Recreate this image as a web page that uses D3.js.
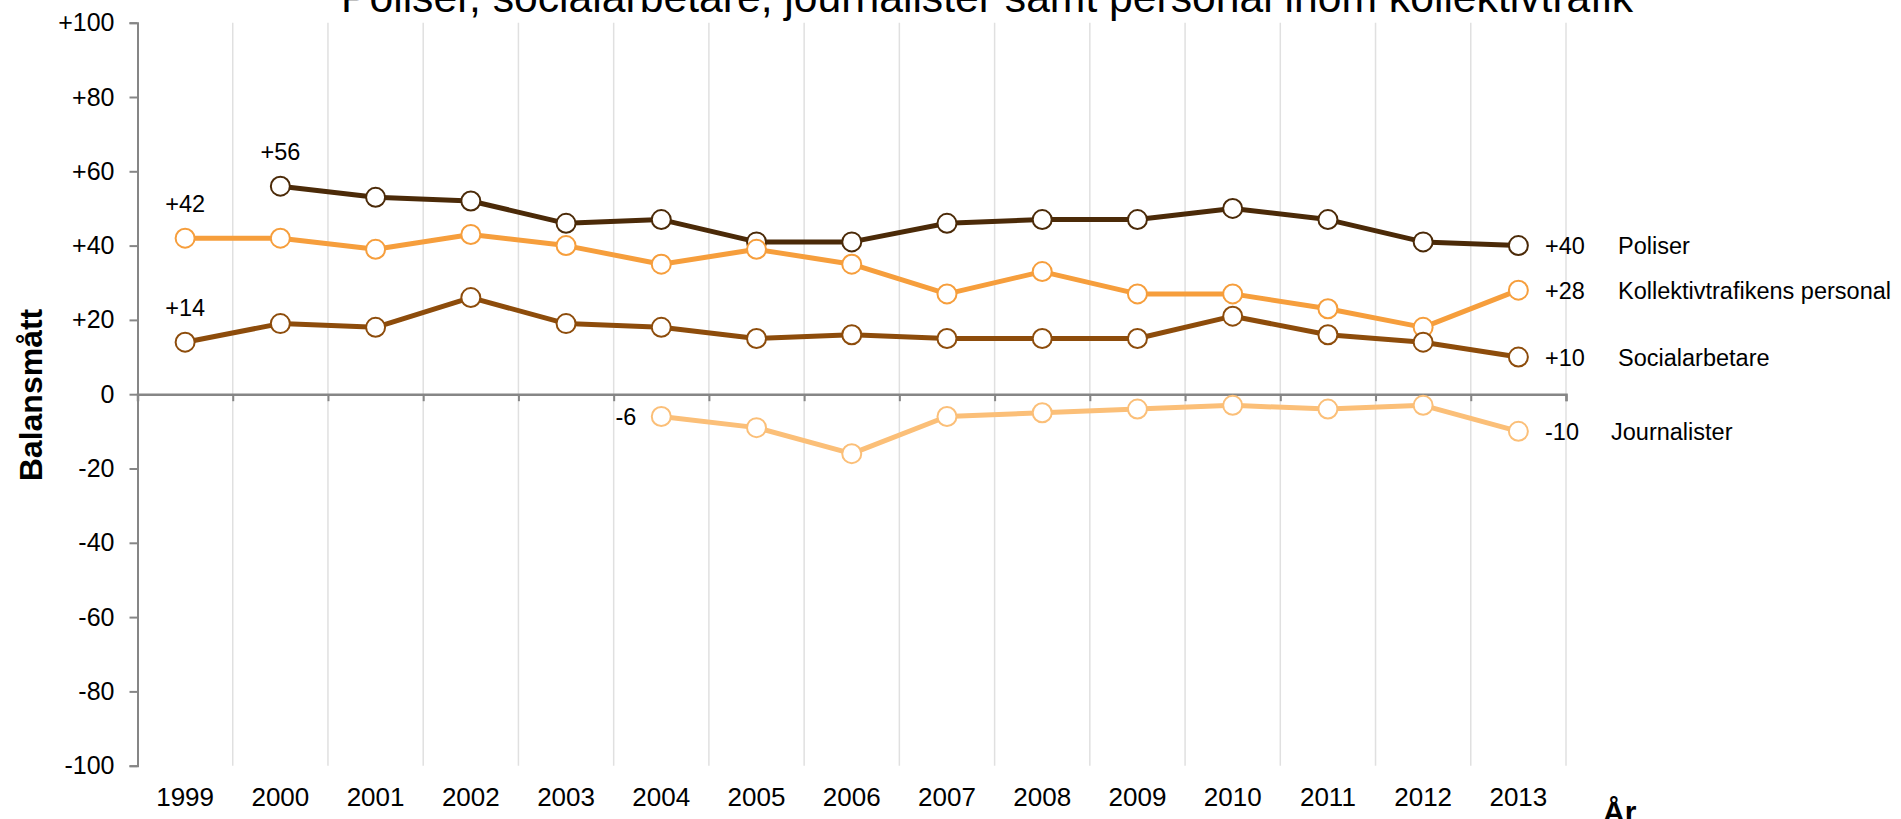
<!DOCTYPE html>
<html>
<head>
<meta charset="utf-8">
<script src="https://cdn.jsdelivr.net/npm/d3@7"></script>
<style>
  html, body { margin: 0; padding: 0; background: #fff; }
  svg { display: block; font-family: "Liberation Sans", Arial, sans-serif; }
</style>
</head>
<body>
<svg id="chart" width="1901" height="819"></svg>
<script>
const years = ["1999","2000","2001","2002","2003","2004","2005","2006","2007","2008","2009","2010","2011","2012","2013"];
const poliser = [null,56,53,52,46,47,41,41,46,47,47,50,47,41,40];
const kollektiv = [42,42,39,43,40,35,39,35,27,33,27,27,23,18,28];
const social = [14,19,18,26,19,18,15,16,15,15,15,21,16,14,10];
const journalister = [null,null,null,null,null,-6,-9,-16,-6,-5,-4,-3,-4,-3,-10];
const yTicks = [-100,-80,-60,-40,-20,0,20,40,60,80,100];
const seriesNames = ["Poliser","Kollektivtrafikens personal","Socialarbetare","Journalister"];
const titleText = "Poliser, socialarbetare, journalister samt personal inom kollektivtrafik";

const colors = ["#4b2a08","#f69e3c","#8d4c0b","#fbbf78"];
const series = [poliser, kollektiv, social, journalister];

const svg = d3.select("#chart");
const x0 = 137.5, x1 = 1566;
const x = d3.scaleBand().domain(years).range([x0, x1]);
const bw = x.bandwidth();
const cx = yr => x(yr) + bw / 2;
const y = d3.scaleLinear().domain([-100, 100]).range([765.7, 22.7]);

// vertical gridlines at band edges
const edges = years.map(yr => x(yr) + bw);
svg.append("g").selectAll("line").data(edges).join("line")
  .attr("x1", d => d).attr("x2", d => d)
  .attr("y1", y(100)).attr("y2", y(-100))
  .attr("stroke", "#e0e0e0").attr("stroke-width", 1.5);

// title
svg.append("text").attr("x", 341).attr("y", 12)
  .attr("font-size", 42).attr("fill", "#000")
  .attr("textLength", 1292).attr("lengthAdjust", "spacingAndGlyphs")
  .text(titleText);

// y axis
const yAxis = d3.axisLeft(y).tickValues(yTicks)
  .tickFormat(d => d > 0 ? "+" + d : String(d))
  .tickSize(8).tickPadding(15);
const gy = svg.append("g").attr("transform", `translate(${x0},0)`).call(yAxis);
gy.select(".domain").attr("stroke", "#868686").attr("stroke-width", 2);
gy.selectAll(".tick line").attr("stroke", "#868686").attr("stroke-width", 2);
gy.selectAll(".tick text").attr("font-size", 25).attr("fill", "#000")
  .attr("font-family", "'Liberation Sans', Arial, sans-serif");

// zero line with downward ticks
const zeroScale = d3.scaleLinear().domain([0, years.length]).range([x0, x1]);
const gx = svg.append("g").attr("transform", `translate(0,${y(0)})`)
  .call(d3.axisBottom(zeroScale).tickValues(d3.range(0, years.length + 1))
    .tickSize(7).tickFormat(""));
gx.select(".domain").attr("stroke", "#868686").attr("stroke-width", 2.5);
gx.selectAll(".tick line").attr("stroke", "#868686").attr("stroke-width", 2);

// x labels
svg.append("g").selectAll("text").data(years).join("text")
  .attr("x", d => cx(d)).attr("y", 805.7)
  .attr("text-anchor", "middle").attr("font-size", 26).attr("fill", "#000")
  .text(d => d);

// axis titles
svg.append("text").attr("transform", "translate(42,395) rotate(-90)")
  .attr("text-anchor", "middle").attr("font-size", 32).attr("font-weight", "bold")
  .text("Balansmått");
svg.append("text").attr("x", 1603).attr("y", 822)
  .attr("font-size", 30).attr("font-weight", "bold").text("År");

// lines and markers
series.forEach((vals, si) => {
  const pts = years.map((yr, i) => ({yr, v: vals[i]})).filter(d => d.v !== null);
  const line = d3.line().x(d => cx(d.yr)).y(d => y(d.v));
  svg.append("path").datum(pts).attr("d", line)
    .attr("fill", "none").attr("stroke", colors[si]).attr("stroke-width", 5)
    .attr("stroke-linejoin", "round");
  svg.append("g").selectAll("circle").data(pts).join("circle")
    .attr("cx", d => cx(d.yr)).attr("cy", d => y(d.v)).attr("r", 9.5)
    .attr("fill", "#fff").attr("stroke", colors[si]).attr("stroke-width", 2);
});

const fmt = v => v > 0 ? "+" + v : String(v);

// start labels
function firstPt(vals) { const i = vals.findIndex(v => v !== null); return {yr: years[i], v: vals[i]}; }
[poliser, kollektiv, social].forEach(vals => {
  const p = firstPt(vals);
  svg.append("text").attr("x", cx(p.yr)).attr("y", y(p.v) - 26)
    .attr("text-anchor", "middle").attr("font-size", 23.5).text(fmt(p.v));
});
{
  const p = firstPt(journalister);
  svg.append("text").attr("x", cx(p.yr) - 25).attr("y", y(p.v)).attr("dy", "0.36em")
    .attr("text-anchor", "end").attr("font-size", 23.5).text(fmt(p.v));
}

// end labels and names
const nameX = [1618, 1618, 1618, 1611];
series.forEach((vals, si) => {
  const last = vals[vals.length - 1];
  const yy = y(last);
  svg.append("text").attr("x", 1545).attr("y", yy).attr("dy", "0.36em")
    .attr("font-size", 23.5).text(fmt(last));
  svg.append("text").attr("x", nameX[si]).attr("y", yy).attr("dy", "0.36em")
    .attr("font-size", 23.5).text(seriesNames[si]);
});
</script>
</body>
</html>
